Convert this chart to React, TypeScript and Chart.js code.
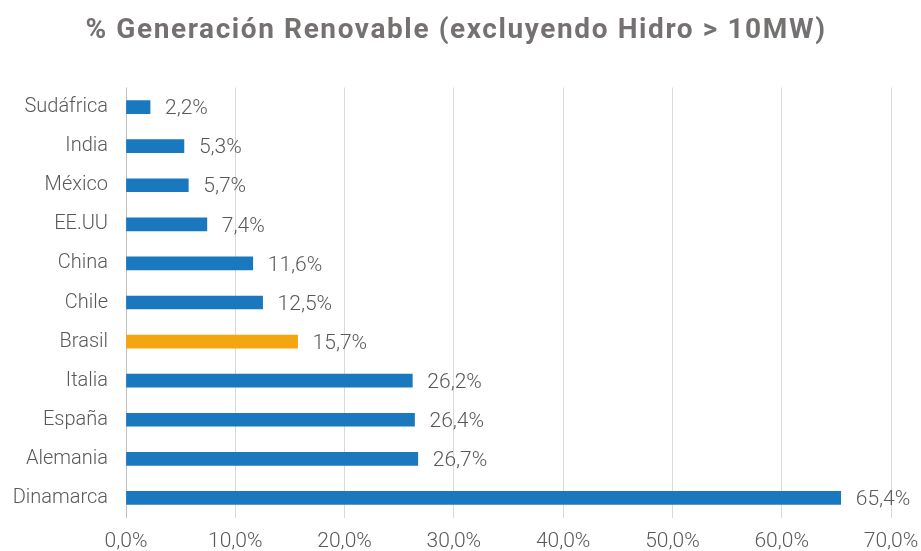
import React, { useEffect, useRef } from "react";
import { Chart, registerables } from "chart.js";

Chart.register(...registerables);

const TITLE = "% Generación Renovable (excluyendo Hidro > 10MW)";
const categories = ["Sudáfrica", "India", "México", "EE.UU", "China", "Chile", "Brasil", "Italia", "España", "Alemania", "Dinamarca"];
const values = [2.2, 5.3, 5.7, 7.4, 11.6, 12.5, 15.7, 26.2, 26.4, 26.7, 65.4];
const highlight = "Brasil";
const BLUE = "#1A78BE";
const ORANGE = "#F5A50F";
const TEXT = "#595959";
const FONT = "Roboto";

const fmt = (v: number) => v.toFixed(1).replace(".", ",") + "%";

const labelPlugin = {
  id: "customLabels",
  afterDatasetsDraw(chart: any) {
    const ctx = chart.ctx;
    const meta = chart.getDatasetMeta(0);
    ctx.save();
    ctx.font = `300 21px ${FONT}`;
    ctx.fillStyle = TEXT;
    ctx.textAlign = "left";
    ctx.textBaseline = "middle";
    meta.data.forEach((bar: any, i: number) => {
      ctx.fillText(fmt(values[i]), bar.x + 15, bar.y + 2);
    });
    ctx.restore();
  },
  afterDraw(chart: any) {
    const ctx = chart.ctx;
    ctx.save();
    ctx.font = `bold 28px ${FONT}`;
    (ctx as any).letterSpacing = "1.6px";
    ctx.fillStyle = "#767171";
    ctx.textAlign = "center";
    ctx.textBaseline = "middle";
    ctx.fillText(TITLE, 456, 31);
    ctx.restore();
  },
};

export default function App() {
  const ref = useRef<HTMLCanvasElement>(null);
  useEffect(() => {
    document.body.style.margin = "0";
    const chart = new Chart(ref.current!, {
      type: "bar",
      data: {
        labels: categories,
        datasets: [
          {
            data: values,
            backgroundColor: categories.map((c) => (c === highlight ? ORANGE : BLUE)),
            barThickness: 13,
          },
        ],
      },
      options: {
        indexAxis: "y",
        responsive: false,
        animation: false,
        layout: { padding: { left: 0, right: 30, top: 87.5, bottom: 0 } },
        plugins: { legend: { display: false }, title: { display: false }, tooltip: { enabled: false } },
        scales: {
          x: {
            min: 0,
            max: 70,
            ticks: {
              stepSize: 10,
              callback: (v: any) => fmt(Number(v)),
              color: TEXT,
              font: { family: FONT, size: 21, weight: 300 },
              padding: 12,
              maxRotation: 0,
            },
            grid: {
              color: (c: any) => (c.index === 0 ? "#BFBFBF" : "#D9D9D9"),
              lineWidth: 1,
              drawTicks: false,
            },
            border: { display: false },
            afterFit: (s: any) => {
              s.height = 33.5;
              s.paddingLeft = 0;
              s.paddingRight = 0;
            },
          },
          y: {
            ticks: {
              color: TEXT,
              font: { family: FONT, size: 20, weight: 300 },
              padding: 18,
            },
            grid: { display: false, drawTicks: false },
            border: { display: false },
            afterFit: (s: any) => {
              s.width = 126;
              s.paddingTop = 0;
              s.paddingBottom = 0;
            },
          },
        },
      },
      plugins: [labelPlugin],
    });
    return () => chart.destroy();
  }, []);
  return <canvas ref={ref} width={921} height={551} />;
}
